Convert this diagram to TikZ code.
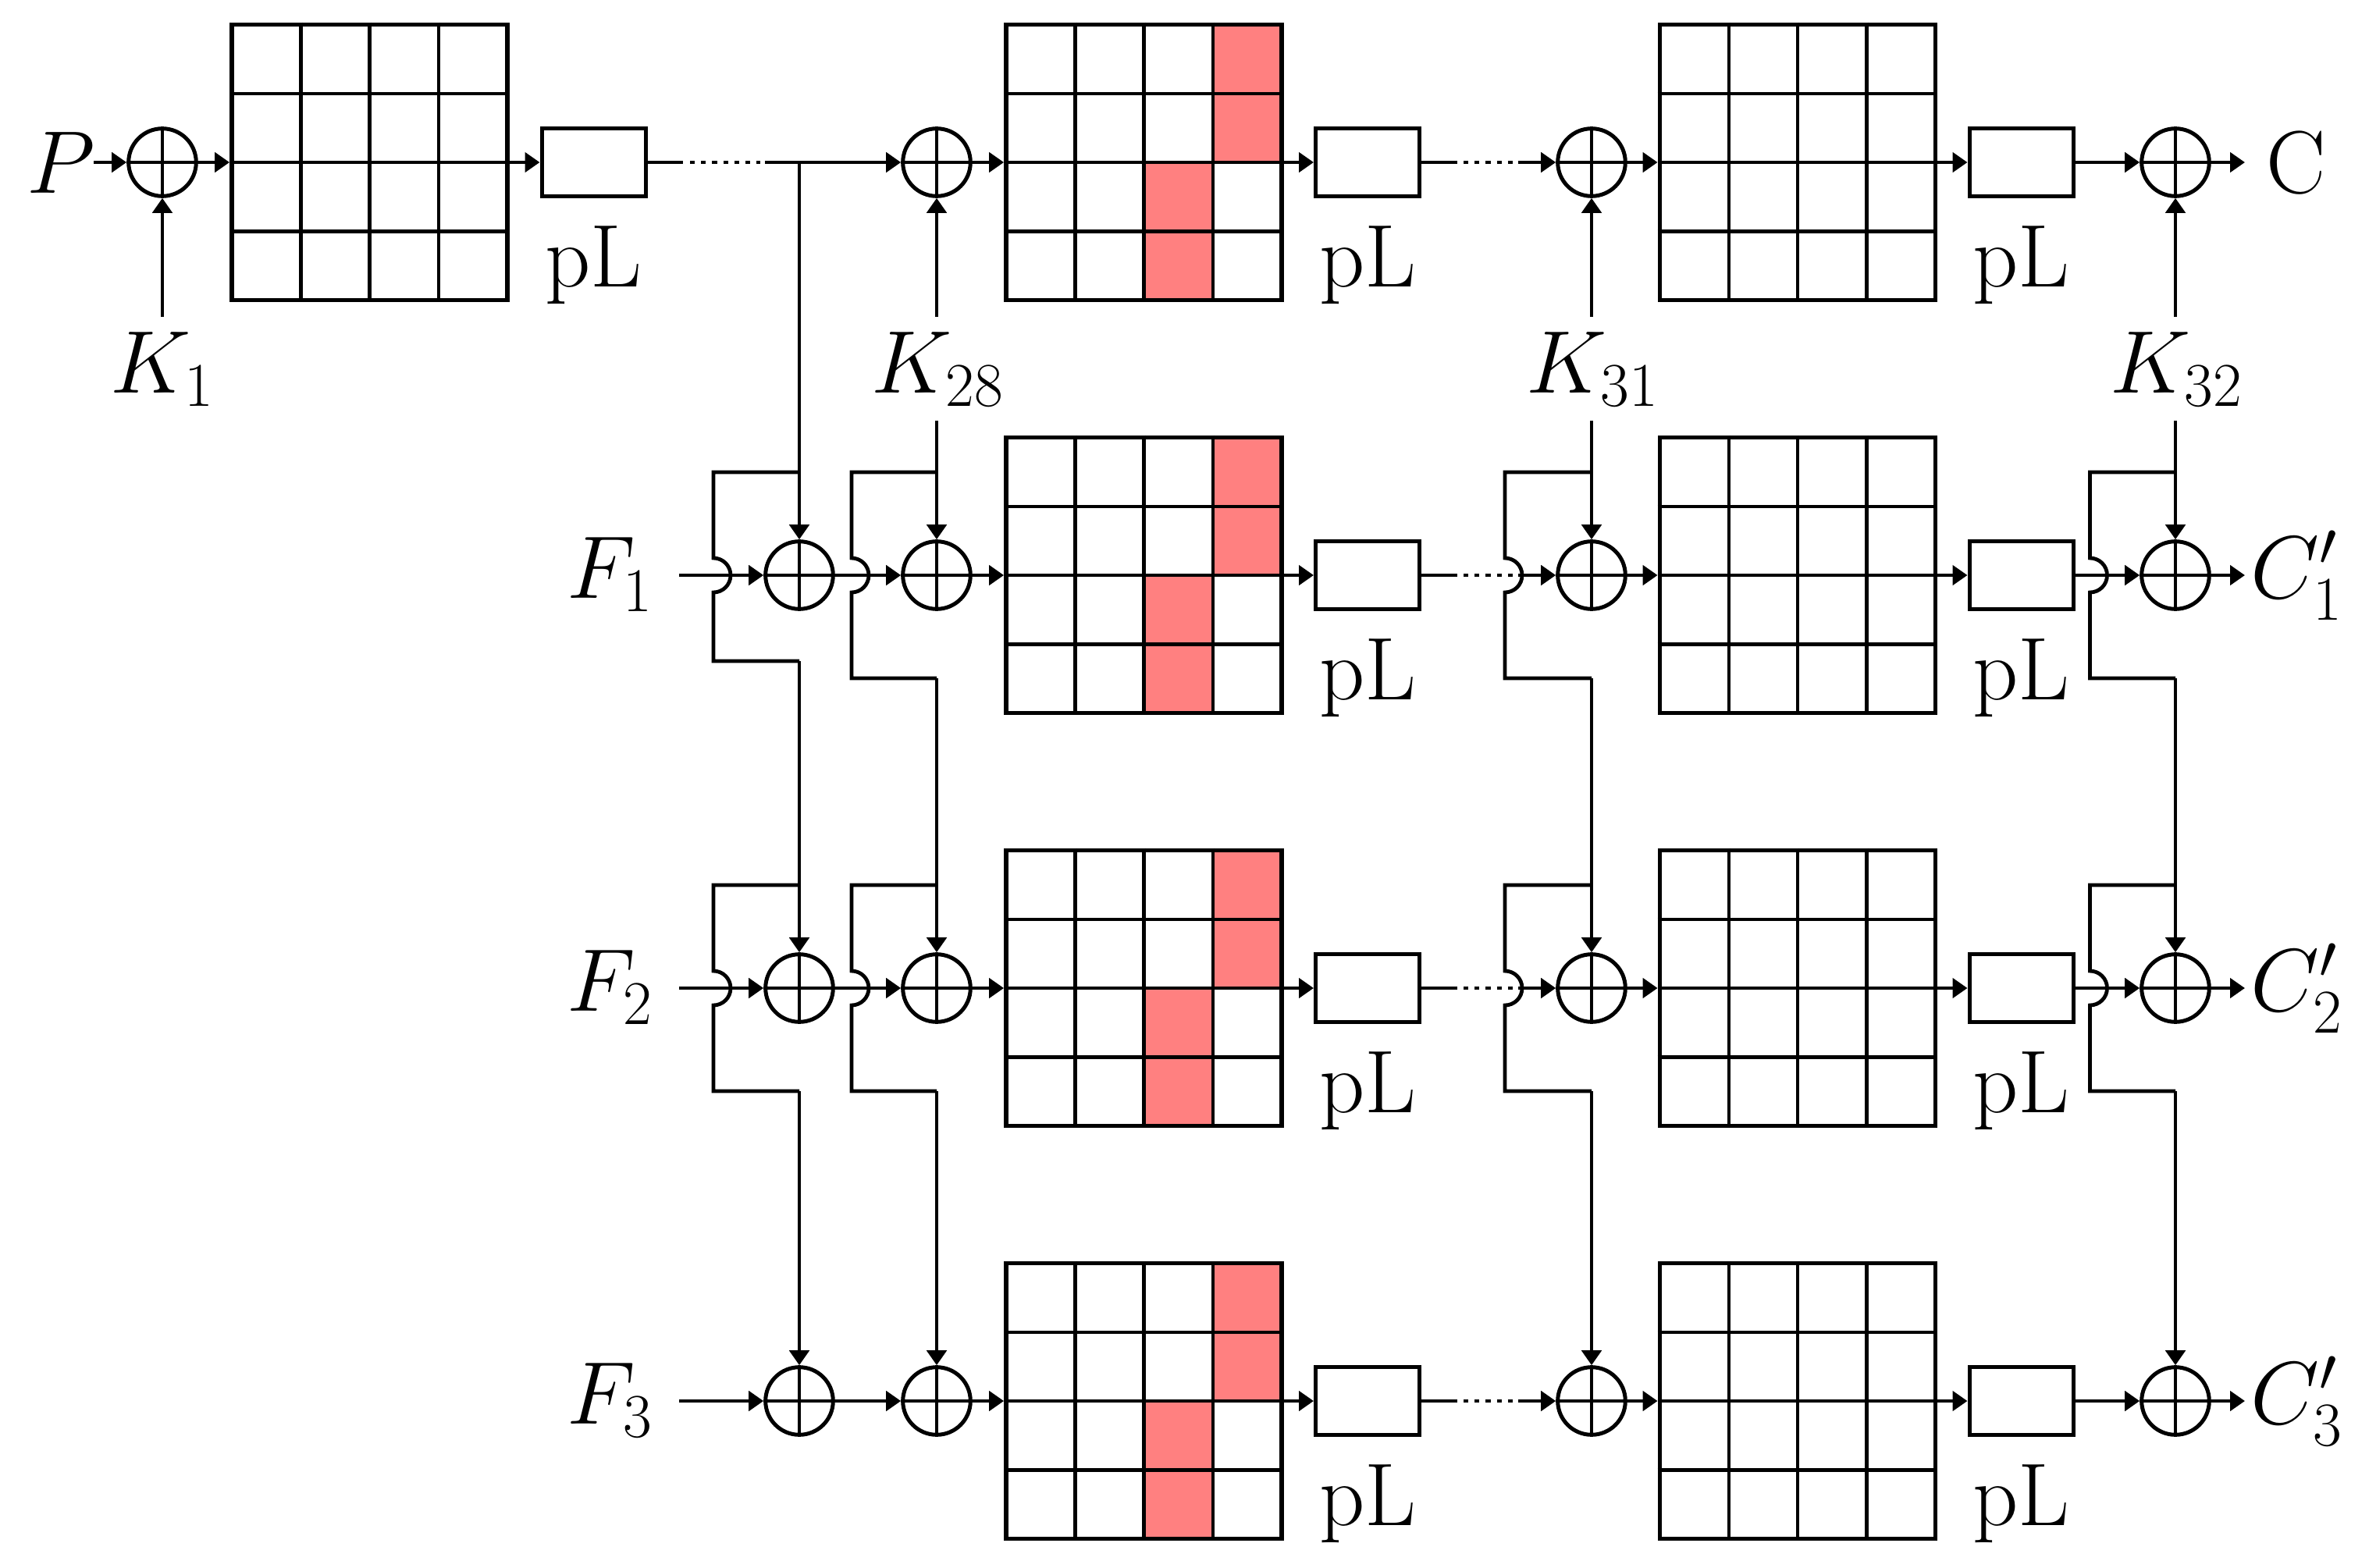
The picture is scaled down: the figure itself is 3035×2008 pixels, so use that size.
\RequirePackage{fix-cm}
\documentclass[tikz,border=0pt]{standalone}
\usetikzlibrary{arrows.meta}
\definecolor{cellred}{HTML}{FF8080}
\tikzset{
  x=0.5pt,y=-0.5pt,
  conn/.style={line width=2.4pt,line join=miter},
  arr/.style={conn,-{Triangle[length=9.5pt,width=12.5pt]}},
  dots/.style={conn,dash pattern=on 3.1pt off 4pt},
  xor/.style={circle,draw,line width=2.5pt,minimum size=43.3pt,inner sep=0pt},
  plbox/.style={rectangle,draw,line width=2.5pt,minimum width=66.5pt,minimum height=43.75pt,inner sep=0pt},
  gridbox/.style={rectangle,draw,line width=2.9pt,minimum size=176.5pt,inner sep=0pt},
  redgrid/.style={gridbox,path picture={
    \fill[cellred] ([xshift=44.125pt]path picture bounding box.center) rectangle (path picture bounding box.north east);
    \fill[cellred] (path picture bounding box.center) rectangle ([xshift=44.125pt]path picture bounding box.south);
  }},
  inner/.style={line width=2.25pt},
  lab/.style={inner sep=0pt,anchor=base,font=\fontsize{57}{60}\selectfont},
}
\newcommand{\cellgrid}[1]{%
  \foreach \k in {-88.25,0,88.25}{
    \draw[inner] ([xshift=\k*0.5pt]#1.north) -- ([xshift=\k*0.5pt]#1.south);
    \draw[inner] ([yshift=\k*0.5pt]#1.west) -- ([yshift=\k*0.5pt]#1.east);
  }
}
\newcommand{\xornode}[2]{%
  \node[xor] (#1) at (#2) {};
  \draw[conn] (#1.north) -- (#1.south) (#1.west) -- (#1.east);
}
\begin{document}
\begin{tikzpicture}
\useasboundingbox (0,0) rectangle (3035,2008);
% row 1
\node[lab] (P) at (78,247) {$P$};
\coordinate (ps) at (120,208);
\xornode{x01}{208,208}
\node[lab] (K1) at (208,503) {$K_1$};
\coordinate (k1s) at (208,406);
\node[gridbox] (g01) at (473.5,208) {};
\cellgrid{g01}
\node[plbox] (b01) at (760.5,208) {};
\node[lab] (p01) at (760.5,367) {pL};
\draw[arr] (ps) -- (x01.west);
\draw[arr] (k1s) -- (x01.south);
\draw[arr] (x01.east) -- (g01.west);
\draw[arr] (g01.west) -- (b01.west);
\coordinate (d0) at (875,208);
\coordinate (d1) at (884,208);
\coordinate (d2) at (974,208);
\coordinate (d3) at (980,208);
\coordinate (br) at (1024,208);
\draw[conn] (b01.east) -- (d0);
\draw[dots] (d1) -- (d2);
% columns rows 1-4
\foreach \r/\y in {1/208,2/737,3/1266,4/1795}{
  \node[redgrid] (ga\r) at (1465.5,\y) {};
  \cellgrid{ga\r}
  \node[plbox] (ba\r) at (1752,\y) {};
  \node[lab] (pa\r) at (1752,{\y+159}) {pL};
  \node[gridbox] (gb\r) at (2303,\y) {};
  \cellgrid{gb\r}
  \node[plbox] (bb\r) at (2589.5,\y) {};
  \node[lab] (pb\r) at (2589.5,{\y+159}) {pL};
  \xornode{x2\r}{1200,\y}
  \xornode{x3\r}{2039,\y}
  \xornode{x4\r}{2787,\y}
  \draw[arr] (x2\r.east) -- (ga\r.west);
  \draw[arr] (ga\r.west) -- (ba\r.west);
  \draw[arr] (x3\r.east) -- (gb\r.west);
  \draw[arr] (gb\r.west) -- (bb\r.west);
  \draw[arr] (bb\r.east) -- (x4\r.west);
  \coordinate (e0\r) at (1867,\y);
  \coordinate (e1\r) at (1875,\y);
  \coordinate (e2\r) at (1938,\y);
  \coordinate (e3\r) at (1945,\y);
  \draw[conn] (ba\r.east) -- (e0\r);
  \draw[dots] (e1\r) -- (e2\r);
  \draw[arr] (e3\r) -- (x3\r.west);
}
\foreach \r/\y in {2/737,3/1266,4/1795}{
  \xornode{x1\r}{1024,\y}
  \coordinate (f\r) at (870,\y);
  \draw[arr] (f\r) -- (x1\r.west);
  \draw[arr] (x1\r.east) -- (x2\r.west);
}
\draw[conn] (d3) -- (br);
\draw[arr] (br) -- (x21.west);
\node[lab] (F1) at (781,766) {$F_1$};
\node[lab] (F2) at (781,1295) {$F_2$};
\node[lab] (F3) at (781,1824) {$F_3$};
\node[lab] (C) at (2942,247) {C};
\node[lab] (C1) at (2942,766) {$C'_1$};
\node[lab] (C2) at (2942,1295) {$C'_2$};
\node[lab] (C3) at (2942,1824) {$C'_3$};
\foreach \r/\y in {1/208,2/737,3/1266,4/1795}{
  \coordinate (co\r) at (2876,\y);
  \draw[arr] (x4\r.east) -- (co\r);
}
% keys
\foreach \c/\x/\k in {2/1200/28,3/2039/31,4/2787/32}{
  \node[lab] (K\c) at ({\x+1.5},503) {$K_{\k}$};
  \coordinate (kt\c) at (\x,406);
  \coordinate (ku\c) at (\x,539);
  \draw[arr] (kt\c) -- (x\c1.south);
  \draw[arr] (ku\c) -- (x\c2.north);
}
\draw[arr] (br) -- (x12.north);
% split loops
\foreach \c/\x/\l in {1/1024/914,2/1200/1091,3/2039/1928,4/2787/2677.5}{
  \foreach \r/\y/\n in {2/737/3,3/1266/4}{
    \ifnum\c=1 \ifnum\r=2 \def\bot{847}\else \def\bot{1398}\fi
    \else \ifnum\r=2 \def\bot{869}\else \def\bot{1398}\fi\fi
    \coordinate (j\c\r) at (\x,{\y-132});
    \coordinate (t\c\r) at (\l,{\y-132});
    \coordinate (s\c\r) at (\l,{\y-22});
    \coordinate (u\c\r) at (\l,\bot);
    \coordinate (v\c\r) at (\x,\bot);
    \draw[conn] (j\c\r) -- (t\c\r) -- (s\c\r) arc[start angle=90,end angle=-90,radius=11pt] -- (u\c\r) -- (v\c\r);
    \draw[arr] (v\c\r) -- (x\c\n.north);
  }
}
\end{tikzpicture}
\end{document}
